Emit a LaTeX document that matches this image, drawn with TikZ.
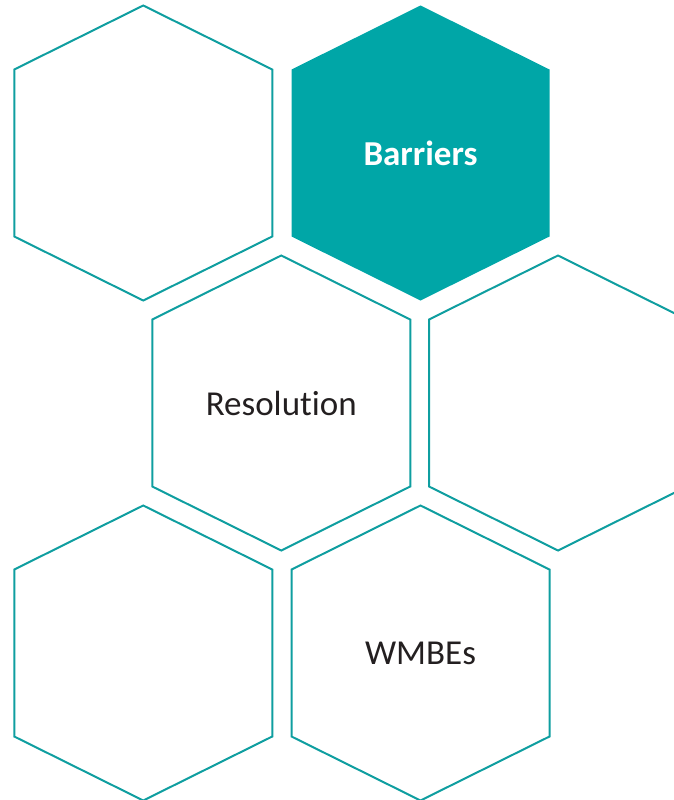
\documentclass[tikz,border=0pt]{standalone}
\usepackage{fontspec}
\setmainfont{Carlito}[Ligatures={NoCommon}]
\definecolor{tealline}{HTML}{0F9EA0}
\definecolor{tealfill}{HTML}{00A6A7}
\definecolor{inktext}{HTML}{231F20}
\tikzset{
  hexcell/.pic={
    \path[pic actions] (0,-147.5) -- (129,-83.5) -- (129,83.5) -- (0,147.5)
      -- (-129,83.5) -- (-129,-83.5) -- cycle;
  },
  hexline/.style={draw=tealline, line width=2pt, line join=miter},
  hexsolid/.style={fill=tealfill},
  celltext/.style={font=\fontsize{35}{40}\selectfont, text=inktext},
  celltextbold/.style={font=\fontsize{35}{40}\selectfont\bfseries, text=white},
}
\begin{document}
\begin{tikzpicture}[x=1pt,y=-1pt]
  \useasboundingbox (0,0) rectangle (674,800);
  \clip (0,0) rectangle (674,800);
  % honeycomb cells
  \pic[hexline] at (143.25,153) {hexcell};
  \pic[hexsolid] at (420.5,153) {hexcell};
  \pic[hexline] at (281.25,403) {hexcell};
  \pic[hexline] at (558,403) {hexcell};
  \pic[hexline] at (143.25,653) {hexcell};
  \pic[hexline] at (420.5,653) {hexcell};
  % labels
  \node[celltextbold] (barriers) at (420.5,153) {Barriers};
  \node[celltext] (resolution) at (281.25,403) {Resolution};
  \node[celltext] (wmbes) at (420.5,653) {WMBEs};
\end{tikzpicture}
\end{document}
